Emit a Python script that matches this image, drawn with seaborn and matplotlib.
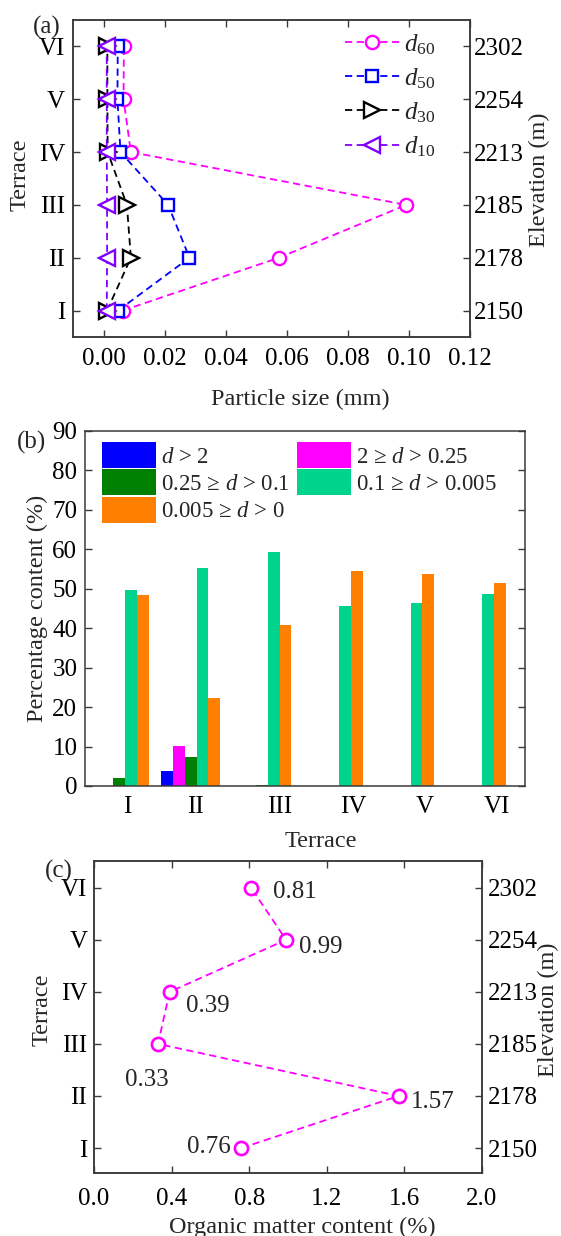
import numpy as np
import pandas as pd
import matplotlib
matplotlib.use("Agg")
import matplotlib.pyplot as plt
import seaborn as sns

# ------------- DATA -------------
terraces = ["I", "II", "III", "IV", "V", "VI"]
elevations = ["2150", "2178", "2185", "2213", "2254", "2302"]

# (a) characteristic particle sizes (mm), terrace I..VI
d60 = [0.0061, 0.0573, 0.0990, 0.0088, 0.0064, 0.0065]
d50 = [0.0046, 0.0280, 0.0210, 0.0054, 0.0044, 0.0045]
d30 = [0.0010, 0.0088, 0.0075, 0.0012, 0.0011, 0.0011]
d10 = [0.0009, 0.0010, 0.0010, 0.0009, 0.0009, 0.0009]
series_names = ["$d_{60}$", "$d_{50}$", "$d_{30}$", "$d_{10}$"]

# (b) grain size fractions (%)
class_labels = ["$d$ > 2", "2 \u2265 $d$ > 0.25", "0.25 \u2265 $d$ > 0.1",
                "0.1 \u2265 $d$ > 0.005", "0.005 \u2265 $d$ > 0"]
pct_gt2 = [0.0, 3.7, 0.0, 0.0, 0.0, 0.0]
pct_2_025 = [0.0, 10.1, 0.0, 0.0, 0.0, 0.0]
pct_025_01 = [2.1, 7.4, 0.2, 0.1, 0.1, 0.0]
pct_01_0005 = [49.8, 55.3, 59.3, 45.6, 46.3, 48.6]
pct_0005_0 = [48.4, 22.3, 40.7, 54.5, 53.7, 51.4]

# (c) organic matter content (%)
organic = [0.76, 1.57, 0.33, 0.39, 0.99, 0.81]

# ------------- STYLE -------------
sns.set_style("ticks")
plt.rcParams["font.family"] = ["Liberation Serif", "DejaVu Serif"]
plt.rcParams["mathtext.fontset"] = "custom"
plt.rcParams["mathtext.rm"] = "Liberation Serif"
plt.rcParams["mathtext.it"] = "Liberation Serif:italic"
plt.rcParams["mathtext.fallback"] = "stix"
FS = 18      # tick labels, legends, annotations
LFS = 17.5   # axis labels
BFS = 16.5   # bar legend
SPINE = "#3a3a3a"

line_colors = ["#ff00ff", "#0000ff", "#000000", "#8000ff"]
line_markers = ["o", "s", ">", "<"]
marker_sizes = [9.5, 8.5, 11, 11]
bar_colors = ["#0000ff", "#ff00ff", "#008000", "#00d38c", "#ff8000"]
DASH = (0, (4, 2.5))


def style_axes(ax):
    for s in ax.spines.values():
        s.set_color(SPINE)
        s.set_linewidth(1.1)
    ax.tick_params(direction="in", length=5, width=1.0, color=SPINE,
                   labelsize=FS, labelcolor="black")


fig = plt.figure(figsize=(5.61, 12.36), dpi=100)
ypos = np.arange(len(terraces)) + 1

# ------------- (a) -------------
ax_a = fig.add_axes([0.1310, 0.72735, 0.7073, 0.25647])
for vals, name, col, mk, ms in zip([d60, d50, d30, d10], series_names,
                                   line_colors, line_markers, marker_sizes):
    sns.lineplot(x=vals, y=ypos, sort=False, estimator=None, ax=ax_a,
                 color=col, linestyle=DASH, linewidth=1.3, marker=mk,
                 markersize=ms, markerfacecolor="white", markeredgecolor=col,
                 markeredgewidth=1.7, label=name)
ax_a.set_xlim(-0.01, 0.12)
ax_a.set_ylim(0.5, 6.5)
ax_a.set_xticks(np.arange(0, 0.121, 0.02))
ax_a.set_xticklabels([f"{v:.2f}" for v in np.arange(0, 0.121, 0.02)])
ax_a.set_yticks(ypos)
ax_a.set_yticklabels(terraces)
style_axes(ax_a)
ax_a.tick_params(axis="x", top=True, pad=8)
ax_a.tick_params(axis="y", pad=6)
ax_a.set_xlabel("Particle size (mm)", fontsize=LFS)
ax_a.xaxis.set_label_coords(0.571, -0.165)
ax_a.set_ylabel("Terrace", fontsize=LFS)
ax_a.yaxis.set_label_coords(-0.107, 0.511)
ax_a.legend(loc="upper left", bbox_to_anchor=(0.684, 0.962), frameon=False,
            fontsize=FS, handlelength=2.2, handletextpad=0.15,
            labelspacing=0.38, borderpad=0, borderaxespad=0)
ax_a2 = ax_a.twinx()
ax_a2.set_ylim(0.5, 6.5)
ax_a2.set_yticks(ypos)
ax_a2.set_yticklabels(elevations)
style_axes(ax_a2)
ax_a2.tick_params(axis="y", pad=2.7)
ax_a2.set_ylabel("Elevation (m)", fontsize=LFS)
ax_a2.yaxis.set_label_coords(1.148, 0.495)

# ------------- (b) -------------
ax_b = fig.add_axes([0.15152, 0.36408, 0.7852, 0.28722])
df_b = pd.DataFrame({
    "terrace": terraces * 5,
    "cls": np.repeat(class_labels, len(terraces)),
    "pct": pct_gt2 + pct_2_025 + pct_025_01 + pct_01_0005 + pct_0005_0,
})
sns.barplot(data=df_b, x="terrace", y="pct", hue="cls", order=terraces,
            hue_order=class_labels, palette=bar_colors, saturation=1,
            width=0.82, linewidth=0, ax=ax_b)
leg = ax_b.get_legend()
handles = list(leg.legend_handles)
leg.remove()
order = [0, 2, 4, 1, 3]
ax_b.legend([handles[i] for i in order], [class_labels[i] for i in order],
            ncol=2, loc="upper left", bbox_to_anchor=(0.038, 0.969),
            frameon=False, fontsize=BFS, handlelength=2.36, handleheight=1.38,
            handletextpad=0.22, labelspacing=0.05, columnspacing=0.3,
            borderpad=0, borderaxespad=0)
ax_b.set_xlim(-0.48, 5.69)
ax_b.set_ylim(0, 90)
ax_b.set_yticks(np.arange(0, 91, 10))
tick_shift = [0.11, 0.07, 0.24, 0.28, 0.28, 0.29]
ax_b.set_xticks(np.arange(len(terraces)) + np.array(tick_shift))
ax_b.set_xticklabels(terraces)
style_axes(ax_b)
ax_b.tick_params(axis="y", right=True, pad=5.5)
ax_b.tick_params(axis="x", length=0, pad=7)
ax_b.set_xlabel("Terrace", fontsize=LFS)
ax_b.xaxis.set_label_coords(0.536, -0.127)
ax_b.set_ylabel("Percentage content (%)", fontsize=LFS)
ax_b.yaxis.set_label_coords(-0.084, 0.50)

# ------------- (c) -------------
ax_c = fig.add_axes([0.16756, 0.05097, 0.69162, 0.25267])
sns.lineplot(x=organic, y=ypos, sort=False, estimator=None, ax=ax_c,
             color="#ff00ff", linestyle=DASH, linewidth=1.3, marker="o",
             markersize=9.5, markerfacecolor="white", markeredgecolor="#ff00ff",
             markeredgewidth=1.9)
# label placement (offset points, alignment) for each terrace
label_offsets = [(-8, 1), (9, -4), (-8, -26), (12, -10.5), (9.5, -5), (15.5, -3)]
label_ha = ["right", "left", "center", "left", "left", "left"]
for val, yp, off, ha in zip(organic, ypos, label_offsets, label_ha):
    ax_c.annotate(f"{val:.2f}", (val, yp), xytext=off,
                  textcoords="offset points", ha=ha, va="center", fontsize=FS)
ax_c.set_xlim(0, 2.0)
ax_c.set_ylim(0.52, 6.52)
ax_c.set_xticks(np.arange(0, 2.01, 0.4))
ax_c.set_xticklabels([f"{v:.1f}" for v in np.arange(0, 2.01, 0.4)])
ax_c.set_yticks(ypos)
ax_c.set_yticklabels(terraces)
style_axes(ax_c)
ax_c.tick_params(axis="x", top=True, pad=11)
ax_c.tick_params(axis="y", pad=4.8)
ax_c.set_xlabel("Organic matter content (%)", fontsize=LFS)
ax_c.xaxis.set_label_coords(0.538, -0.14)
ax_c.set_ylabel("Terrace", fontsize=LFS)
ax_c.yaxis.set_label_coords(-0.108, 0.522)
ax_c2 = ax_c.twinx()
ax_c2.set_ylim(0.52, 6.52)
ax_c2.set_yticks(ypos)
ax_c2.set_yticklabels(elevations)
style_axes(ax_c2)
ax_c2.tick_params(axis="y", pad=4.3)
ax_c2.set_ylabel("Elevation (m)", fontsize=LFS)
ax_c2.yaxis.set_label_coords(1.143, 0.522)

# panel tags
fig.text(46.5 / 561, 1 - 27.5 / 1236, "(a)", fontsize=FS, ha="center", va="center")
fig.text(31.5 / 561, 1 - 442 / 1236, "(b)", fontsize=FS, ha="center", va="center")
fig.text(59 / 561, 1 - 871 / 1236, "(c)", fontsize=FS, ha="center", va="center")

fig.savefig("out.png", dpi=100)
